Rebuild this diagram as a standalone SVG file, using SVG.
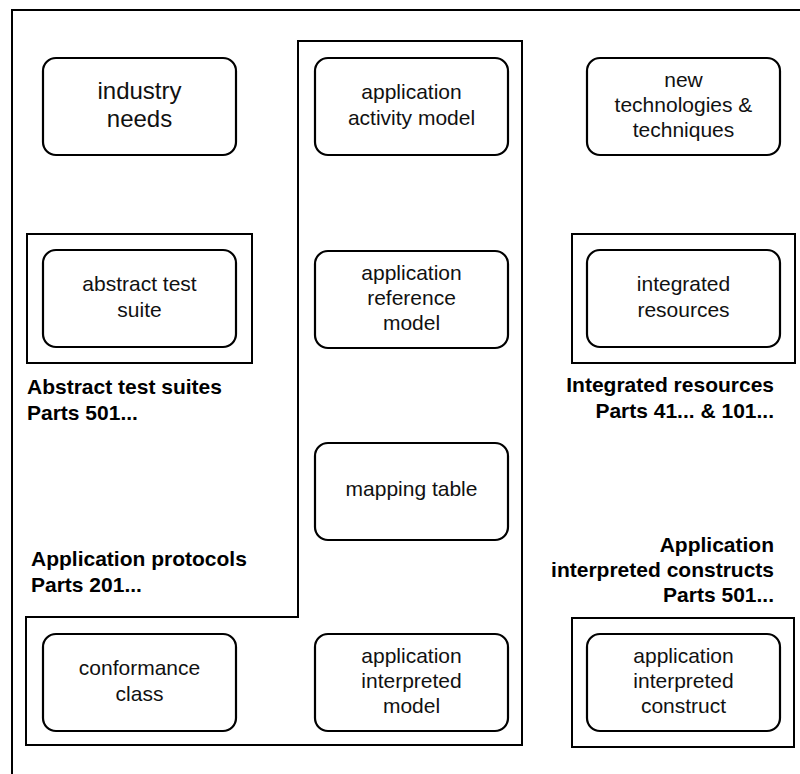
<svg xmlns="http://www.w3.org/2000/svg" width="800" height="774" viewBox="0 0 800 774">
  <style>
    .frame { fill: none; stroke: #000; stroke-width: 2; }
    .box { fill: #fff; stroke: #000; stroke-width: 2.2; }
    .txt { font-family: "Liberation Sans", Arial, sans-serif; font-size: 21px; fill: #111; text-anchor: middle; }
    .big { font-size: 24px; }
    .lbl { font-family: "Liberation Sans", Arial, sans-serif; font-size: 21px; font-weight: bold; fill: #000; }
    .end { text-anchor: end; }
  </style>
  <defs>
    <rect id="node" width="193" height="97" rx="13" ry="13"/>
  </defs>
  <rect x="0" y="0" width="800" height="774" fill="#fff"/>

  <!-- outer boundary (runs past the right and bottom edges) -->
  <rect class="frame" x="12" y="10" width="820" height="800"/>

  <!-- application protocol region -->
  <g id="application-protocols">
    <polygon class="frame" points="298,41 522,41 522,745 26,745 26,617 298,617"/>
    <text class="lbl" x="31" y="566">Application protocols</text>
    <text class="lbl" x="31" y="592">Parts 201...</text>
  </g>

  <!-- abstract test suites part -->
  <g id="abstract-test-suites">
    <rect class="frame" x="27" y="234" width="225" height="129"/>
    <text class="lbl" x="27" y="394">Abstract test suites</text>
    <text class="lbl" x="27" y="420">Parts 501...</text>
  </g>

  <!-- integrated resources part -->
  <g id="integrated-resources-part">
    <rect class="frame" x="572" y="234" width="223" height="129"/>
    <text class="lbl end" x="774" y="392">Integrated resources</text>
    <text class="lbl end" x="774" y="418">Parts 41... &amp; 101...</text>
  </g>

  <!-- application interpreted constructs part -->
  <g id="aic-part">
    <rect class="frame" x="572" y="618" width="222" height="129"/>
    <text class="lbl end" x="774" y="552">Application</text>
    <text class="lbl end" x="774" y="577">interpreted constructs</text>
    <text class="lbl end" x="774" y="602">Parts 501...</text>
  </g>

  <g id="connectors"></g>

  <!-- nodes -->
  <g id="industry-needs">
    <use href="#node" class="box" x="43" y="58"/>
    <text class="txt big" x="139.5" y="99">industry</text>
    <text class="txt big" x="139.5" y="127">needs</text>
  </g>

  <g id="application-activity-model">
    <use href="#node" class="box" x="315" y="58"/>
    <text class="txt" x="411.5" y="99">application</text>
    <text class="txt" x="411.5" y="125">activity model</text>
  </g>

  <g id="new-technologies">
    <use href="#node" class="box" x="587" y="58"/>
    <text class="txt" x="683.5" y="87">new</text>
    <text class="txt" x="683.5" y="112">technologies &amp;</text>
    <text class="txt" x="683.5" y="137">techniques</text>
  </g>

  <g id="abstract-test-suite">
    <use href="#node" class="box" x="43" y="250"/>
    <text class="txt" x="139.5" y="291">abstract test</text>
    <text class="txt" x="139.5" y="317">suite</text>
  </g>

  <g id="application-reference-model">
    <use href="#node" class="box" x="315" y="251"/>
    <text class="txt" x="411.5" y="280">application</text>
    <text class="txt" x="411.5" y="305">reference</text>
    <text class="txt" x="411.5" y="330">model</text>
  </g>

  <g id="integrated-resources">
    <use href="#node" class="box" x="587" y="250"/>
    <text class="txt" x="683.5" y="291">integrated</text>
    <text class="txt" x="683.5" y="317">resources</text>
  </g>

  <g id="mapping-table">
    <use href="#node" class="box" x="315" y="443"/>
    <text class="txt" x="411.5" y="496">mapping table</text>
  </g>

  <g id="conformance-class">
    <use href="#node" class="box" x="43" y="634"/>
    <text class="txt" x="139.5" y="675">conformance</text>
    <text class="txt" x="139.5" y="701">class</text>
  </g>

  <g id="application-interpreted-model">
    <use href="#node" class="box" x="315" y="634"/>
    <text class="txt" x="411.5" y="663">application</text>
    <text class="txt" x="411.5" y="688">interpreted</text>
    <text class="txt" x="411.5" y="713">model</text>
  </g>

  <g id="application-interpreted-construct">
    <use href="#node" class="box" x="587" y="634"/>
    <text class="txt" x="683.5" y="663">application</text>
    <text class="txt" x="683.5" y="688">interpreted</text>
    <text class="txt" x="683.5" y="713">construct</text>
  </g>
</svg>
